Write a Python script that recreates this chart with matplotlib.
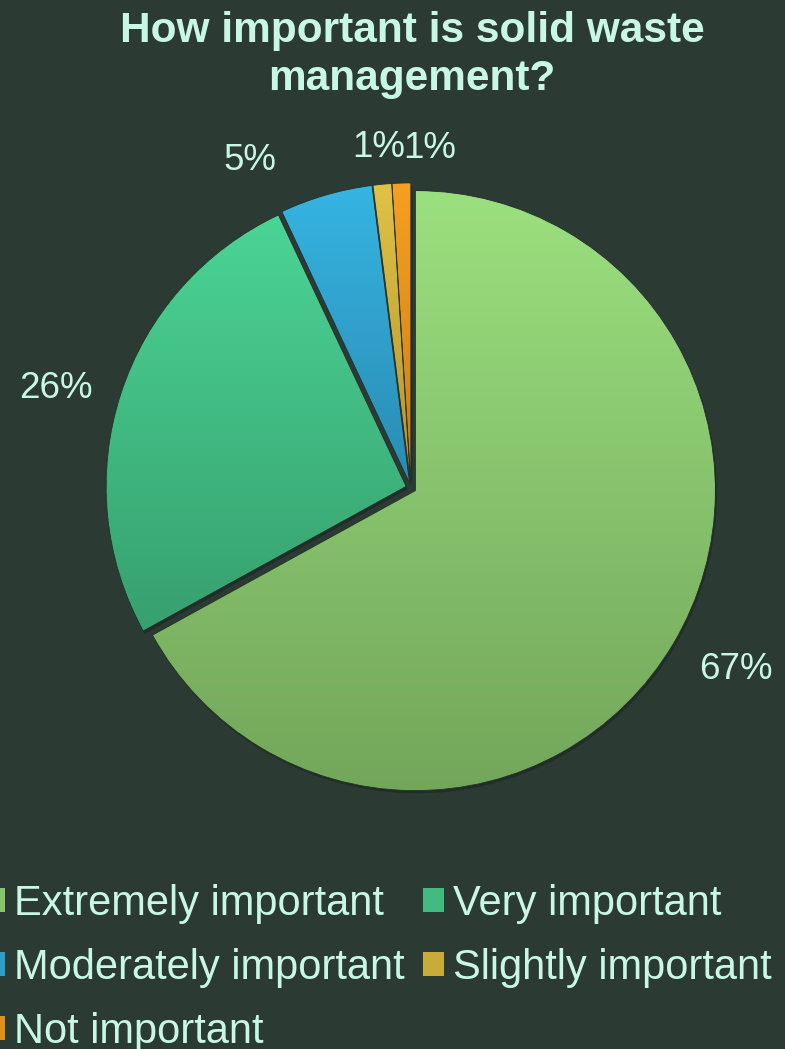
import numpy as np
import matplotlib
matplotlib.use("Agg")
import matplotlib.pyplot as plt
from matplotlib.patches import Wedge, Patch
from matplotlib.colors import to_rgb

# ---- data ----
categories = ["Extremely important", "Very important", "Moderately important",
              "Slightly important", "Not important"]
values = [67, 26, 5, 1, 1]
labels = ["67%", "26%", "5%", "1%", "1%"]
title = "How important is solid waste\nmanagement?"

# ---- style ----
BG = "#2b3a33"
TXT = "#c8f7e6"
grad_top = ["#9be07f", "#4bd496", "#36b4e2", "#dfc246", "#f6a021"]
grad_bot = ["#73a65a", "#37a06e", "#2a8cb2", "#b3962f", "#c97f16"]
legend_col = ["#88c66c", "#41bb82", "#2f9fca", "#c9ab3a", "#de901b"]
label_r = [1.215, 1.215, 1.21, 1.135, 1.13]
label_dtheta = [2.0, 1.7, 9.8, 0.0, -5.0]

plt.rcParams["font.family"] = ["Liberation Sans", "DejaVu Sans"]

fig = plt.figure(figsize=(7.85, 10.49), dpi=100, facecolor=BG)
W, H = 785, 1049
cx, cy, R = 411, 488, 300
M = 1.15  # axes half-extent in units of radius
ax = fig.add_axes([(cx - M * R) / W, (H - cy - M * R) / H, 2 * M * R / W, 2 * M * R / H])
ax.set_facecolor(BG)
ax.axis("off")

wedges, _ = ax.pie(values, startangle=90, counterclock=False, radius=1,
                   explode=[0.017] * len(values),
                   wedgeprops=dict(linewidth=0))

for i, w in enumerate(wedges):
    # shadow
    sh = Wedge((w.center[0] + 0.005, w.center[1] - 0.009), w.r, w.theta1, w.theta2,
               facecolor="#1d2823", edgecolor="none", alpha=0.7, zorder=0.5)
    ax.add_patch(sh)
    w.set_facecolor("none")
    w.set_edgecolor("#24312b")
    w.set_linewidth(0.6)
    w.set_zorder(3)
    bb = w.get_path().get_extents()
    t = np.linspace(0, 1, 256)[:, None]
    c0 = np.array(to_rgb(grad_top[i]))
    c1 = np.array(to_rgb(grad_bot[i]))
    img = (c0[None, None, :] * (1 - t[..., None]) + c1[None, None, :] * t[..., None])
    im = ax.imshow(img, extent=(bb.x0, bb.x1, bb.y0, bb.y1), origin="upper",
                   aspect="auto", zorder=2, interpolation="bilinear")
    im.set_clip_path(w)

    # label
    mid = np.deg2rad((w.theta1 + w.theta2) / 2 + label_dtheta[i])
    r = label_r[i]
    ax.text(w.center[0] + r * np.cos(mid), w.center[1] + r * np.sin(mid), labels[i],
            ha="center", va="center_baseline", fontsize=26.5, color=TXT, zorder=5,
            clip_on=False)

ax.set_xlim(-M, M)
ax.set_ylim(-M, M)
ax.set_aspect("equal")

fig.text(412 / W, 1 - 11 / H, title, ha="center", va="top", fontsize=30.5,
         fontweight="bold", color=TXT, linespacing=1.25)

# legend: row-major order in picture, matplotlib fills column-major
order = [0, 2, 4, 1, 3]
handles = [Patch(facecolor=legend_col[k], edgecolor="none") for k in order]
leg = fig.legend(handles, [categories[k] for k in order], ncol=2,
                 loc="upper left", bbox_to_anchor=(-16 / W, 1 - 884 / H),
                 frameon=False, fontsize=30, labelcolor=TXT,
                 handlelength=0.5, handleheight=0.5, handletextpad=0.22,
                 columnspacing=0.45, labelspacing=0.57, borderpad=0, borderaxespad=0)

fig.savefig("out.png", dpi=100, facecolor=BG)
